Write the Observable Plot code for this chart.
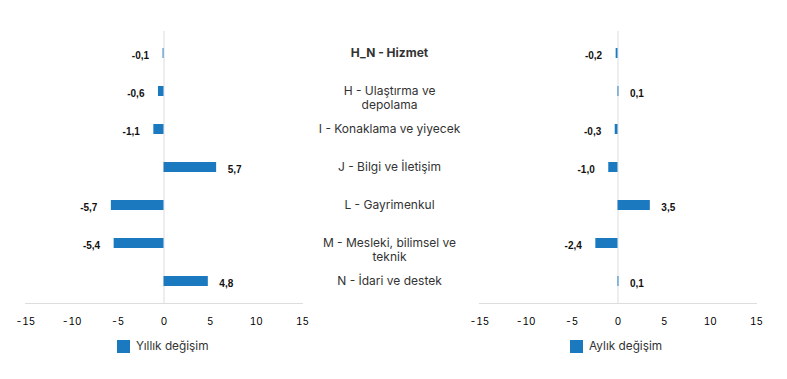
<!DOCTYPE html>
<html>
<head>
<meta charset="utf-8">
<script src="https://cdn.jsdelivr.net/npm/d3@7"></script>
<script src="https://cdn.jsdelivr.net/npm/@observablehq/plot@0.6"></script>
<style>
  html, body { margin: 0; padding: 0; background: #fff; }
  #wrap { position: relative; width: 787px; height: 379px; font-family: Inter, "Noto Sans", sans-serif; }
  .legend { position: absolute; display: flex; align-items: center; font-size: 11.8px; color: #333; }
  .legend .sw { width: 13px; height: 13px; background: #1b79bf; margin-right: 6px; }
</style>
</head>
<body>
<div id="wrap"></div>
<script>
const categories = [
  "H_N - Hizmet",
  "H - Ulaştırma ve\ndepolama",
  "I - Konaklama ve yiyecek",
  "J - Bilgi ve İletişim",
  "L - Gayrimenkul",
  "M - Mesleki, bilimsel ve\nteknik",
  "N - İdari ve destek"
];
const seriesNames = ["Yıllık değişim", "Aylık değişim"];
const yearly = [-0.1, -0.6, -1.1, 5.7, -5.7, -5.4, 4.8];
const monthly = [-0.2, 0.1, -0.3, -1.0, 3.5, -2.4, 0.1];
const xTicks = [-15, -10, -5, 0, 5, 10, 15];

const table = [];
categories.forEach((c, i) => table.push({panel: seriesNames[0], cat: c, value: yearly[i]}));
categories.forEach((c, i) => table.push({panel: seriesNames[1], cat: c, value: monthly[i]}));

const fmt = v => v.toFixed(1).replace(".", ",");
const blue = "#1b79bf";

const catLabel = (bold) => Plot.text(table, {
  filter: d => d.panel === seriesNames[0] && ((d.cat === categories[0]) === bold),
  x: () => 15, y: "cat", text: "cat",
  dx: 87, dy: -6.5, lineAnchor: "top", lineHeight: 1.17, textAnchor: "middle",
  fontSize: 12, fill: "#333", fontWeight: bold ? "bold" : "normal"
});

const chart = Plot.plot({
  width: 787,
  height: 335,
  marginLeft: 25,
  marginRight: 31,
  marginTop: 31,
  marginBottom: 32,
  style: {fontFamily: "Inter, 'Noto Sans', sans-serif", background: "#fff"},
  facet: {data: table, x: "panel"},
  fx: {domain: seriesNames, axis: null, paddingInner: 0.39, paddingOuter: 0},
  x: {domain: [-15, 15], ticks: xTicks, tickFormat: d => String(d), tickSize: 0, tickPadding: 14, label: null, fontSize: 12.5},
  y: {domain: categories, axis: null, paddingInner: 0.742, paddingOuter: 0.371},
  marks: [
    Plot.frame({anchor: "bottom", stroke: "#dddddd"}),
    Plot.ruleX([0], {stroke: "#dddddd"}),
    Plot.barX(table, {x: "value", y: "cat", fill: blue}),
    Plot.text(table, {
      filter: d => d.value >= 0, x: "value", y: "cat", text: d => fmt(d.value),
      textAnchor: "start", dx: 11, dy: 2.5, fontWeight: "bold", fontSize: 10,
      fontFamily: "'Liberation Sans', Arial, sans-serif", fill: "#111"
    }),
    Plot.text(table, {
      filter: d => d.value < 0, x: "value", y: "cat", text: d => fmt(d.value),
      textAnchor: "end", dx: -14, dy: 2.5, fontWeight: "bold", fontSize: 10,
      fontFamily: "'Liberation Sans', Arial, sans-serif", fill: "#111"
    }),
    catLabel(false),
    catLabel(true)
  ]
});

chart.style.position = "absolute";
chart.style.left = "0px";
chart.style.top = "0px";
const wrap = document.getElementById("wrap");
wrap.appendChild(chart);

const legendPos = [{left: 117, top: 339}, {left: 570, top: 339}];
seriesNames.forEach((name, i) => {
  const lg = document.createElement("div");
  lg.className = "legend";
  lg.style.left = legendPos[i].left + "px";
  lg.style.top = legendPos[i].top + "px";
  lg.innerHTML = '<div class="sw"></div><span>' + name + '</span>';
  wrap.appendChild(lg);
});
</script>
</body>
</html>
